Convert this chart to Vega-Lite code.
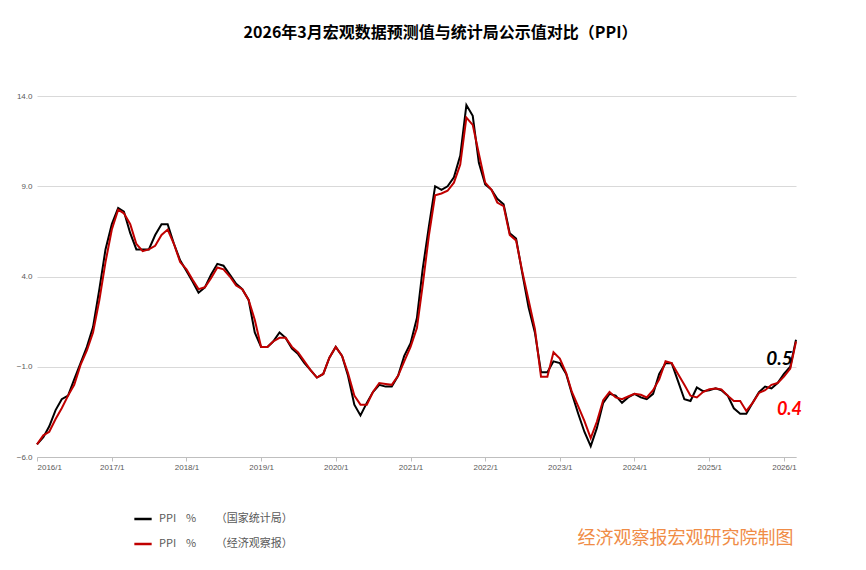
{
  "$schema": "https://vega.github.io/schema/vega-lite/v6.json",
  "width": 759,
  "height": 361,
  "autosize": {"type": "none"},
  "padding": {"left": 37, "top": 96, "right": 70, "bottom": 113},
  "background": "white",
  "title": {
    "text": "2026年3月宏观数据预测值与统计局公示值对比（PPI）",
    "font": "Noto Sans CJK SC",
    "fontSize": 16,
    "fontWeight": "bold",
    "color": "#000000",
    "anchor": "middle",
    "frame": "group",
    "dx": 24,
    "offset": 51
  },
  "config": {"view": {"stroke": null}},
  "layer": [
    {
      "data": {
        "values": [
          {"d": "2016-01", "nbs": -5.3, "eeo": -5.3},
          {"d": "2016-02", "nbs": -4.9, "eeo": -4.8},
          {"d": "2016-03", "nbs": -4.3, "eeo": -4.6},
          {"d": "2016-04", "nbs": -3.4, "eeo": -3.9},
          {"d": "2016-05", "nbs": -2.8, "eeo": -3.3},
          {"d": "2016-06", "nbs": -2.6, "eeo": -2.6},
          {"d": "2016-07", "nbs": -1.7, "eeo": -2.0},
          {"d": "2016-08", "nbs": -0.8, "eeo": -0.9},
          {"d": "2016-09", "nbs": 0.1, "eeo": -0.1},
          {"d": "2016-10", "nbs": 1.2, "eeo": 0.9},
          {"d": "2016-11", "nbs": 3.3, "eeo": 2.7},
          {"d": "2016-12", "nbs": 5.5, "eeo": 4.8},
          {"d": "2017-01", "nbs": 6.9, "eeo": 6.6},
          {"d": "2017-02", "nbs": 7.8, "eeo": 7.7},
          {"d": "2017-03", "nbs": 7.6, "eeo": 7.5},
          {"d": "2017-04", "nbs": 6.4, "eeo": 6.9},
          {"d": "2017-05", "nbs": 5.5, "eeo": 5.8},
          {"d": "2017-06", "nbs": 5.5, "eeo": 5.4},
          {"d": "2017-07", "nbs": 5.5, "eeo": 5.5},
          {"d": "2017-08", "nbs": 6.3, "eeo": 5.7},
          {"d": "2017-09", "nbs": 6.9, "eeo": 6.3},
          {"d": "2017-10", "nbs": 6.9, "eeo": 6.6},
          {"d": "2017-11", "nbs": 5.8, "eeo": 5.8},
          {"d": "2017-12", "nbs": 4.9, "eeo": 4.8},
          {"d": "2018-01", "nbs": 4.3, "eeo": 4.4},
          {"d": "2018-02", "nbs": 3.7, "eeo": 3.8},
          {"d": "2018-03", "nbs": 3.1, "eeo": 3.3},
          {"d": "2018-04", "nbs": 3.4, "eeo": 3.4},
          {"d": "2018-05", "nbs": 4.1, "eeo": 3.9},
          {"d": "2018-06", "nbs": 4.7, "eeo": 4.5},
          {"d": "2018-07", "nbs": 4.6, "eeo": 4.4},
          {"d": "2018-08", "nbs": 4.1, "eeo": 4.0},
          {"d": "2018-09", "nbs": 3.6, "eeo": 3.5},
          {"d": "2018-10", "nbs": 3.3, "eeo": 3.3},
          {"d": "2018-11", "nbs": 2.7, "eeo": 2.7},
          {"d": "2018-12", "nbs": 0.9, "eeo": 1.6},
          {"d": "2019-01", "nbs": 0.1, "eeo": 0.1},
          {"d": "2019-02", "nbs": 0.1, "eeo": 0.1},
          {"d": "2019-03", "nbs": 0.4, "eeo": 0.4},
          {"d": "2019-04", "nbs": 0.9, "eeo": 0.6},
          {"d": "2019-05", "nbs": 0.6, "eeo": 0.6},
          {"d": "2019-06", "nbs": 0.0, "eeo": 0.1},
          {"d": "2019-07", "nbs": -0.3, "eeo": -0.2},
          {"d": "2019-08", "nbs": -0.8, "eeo": -0.7},
          {"d": "2019-09", "nbs": -1.2, "eeo": -1.2},
          {"d": "2019-10", "nbs": -1.6, "eeo": -1.6},
          {"d": "2019-11", "nbs": -1.4, "eeo": -1.4},
          {"d": "2019-12", "nbs": -0.5, "eeo": -0.5},
          {"d": "2020-01", "nbs": 0.1, "eeo": 0.1},
          {"d": "2020-02", "nbs": -0.4, "eeo": -0.4},
          {"d": "2020-03", "nbs": -1.5, "eeo": -1.35},
          {"d": "2020-04", "nbs": -3.1, "eeo": -2.6},
          {"d": "2020-05", "nbs": -3.7, "eeo": -3.1},
          {"d": "2020-06", "nbs": -3.0, "eeo": -3.1},
          {"d": "2020-07", "nbs": -2.4, "eeo": -2.4},
          {"d": "2020-08", "nbs": -2.0, "eeo": -1.9},
          {"d": "2020-09", "nbs": -2.1, "eeo": -1.95},
          {"d": "2020-10", "nbs": -2.1, "eeo": -2.0},
          {"d": "2020-11", "nbs": -1.5, "eeo": -1.5},
          {"d": "2020-12", "nbs": -0.4, "eeo": -0.7},
          {"d": "2021-01", "nbs": 0.3, "eeo": 0.1},
          {"d": "2021-02", "nbs": 1.7, "eeo": 1.15},
          {"d": "2021-03", "nbs": 4.4, "eeo": 3.5},
          {"d": "2021-04", "nbs": 6.8, "eeo": 6.3},
          {"d": "2021-05", "nbs": 9.0, "eeo": 8.5},
          {"d": "2021-06", "nbs": 8.8, "eeo": 8.6},
          {"d": "2021-07", "nbs": 9.0, "eeo": 8.75},
          {"d": "2021-08", "nbs": 9.5, "eeo": 9.2},
          {"d": "2021-09", "nbs": 10.7, "eeo": 10.2},
          {"d": "2021-10", "nbs": 13.5, "eeo": 12.8},
          {"d": "2021-11", "nbs": 12.9, "eeo": 12.4},
          {"d": "2021-12", "nbs": 10.3, "eeo": 10.8},
          {"d": "2022-01", "nbs": 9.1, "eeo": 9.2},
          {"d": "2022-02", "nbs": 8.8, "eeo": 8.8},
          {"d": "2022-03", "nbs": 8.3, "eeo": 8.1},
          {"d": "2022-04", "nbs": 8.0, "eeo": 7.9},
          {"d": "2022-05", "nbs": 6.4, "eeo": 6.3},
          {"d": "2022-06", "nbs": 6.1, "eeo": 6.0},
          {"d": "2022-07", "nbs": 4.2, "eeo": 4.3},
          {"d": "2022-08", "nbs": 2.3, "eeo": 2.7},
          {"d": "2022-09", "nbs": 0.9, "eeo": 1.1},
          {"d": "2022-10", "nbs": -1.3, "eeo": -1.55},
          {"d": "2022-11", "nbs": -1.3, "eeo": -1.55},
          {"d": "2022-12", "nbs": -0.7, "eeo": -0.2},
          {"d": "2023-01", "nbs": -0.8, "eeo": -0.55},
          {"d": "2023-02", "nbs": -1.4, "eeo": -1.35},
          {"d": "2023-03", "nbs": -2.5, "eeo": -2.4},
          {"d": "2023-04", "nbs": -3.6, "eeo": -3.2},
          {"d": "2023-05", "nbs": -4.6, "eeo": -4.0},
          {"d": "2023-06", "nbs": -5.4, "eeo": -4.95},
          {"d": "2023-07", "nbs": -4.4, "eeo": -4.05},
          {"d": "2023-08", "nbs": -3.0, "eeo": -2.85},
          {"d": "2023-09", "nbs": -2.5, "eeo": -2.4},
          {"d": "2023-10", "nbs": -2.6, "eeo": -2.7},
          {"d": "2023-11", "nbs": -3.0, "eeo": -2.8},
          {"d": "2023-12", "nbs": -2.7, "eeo": -2.65},
          {"d": "2024-01", "nbs": -2.5, "eeo": -2.5},
          {"d": "2024-02", "nbs": -2.7, "eeo": -2.55},
          {"d": "2024-03", "nbs": -2.8, "eeo": -2.7},
          {"d": "2024-04", "nbs": -2.5, "eeo": -2.3},
          {"d": "2024-05", "nbs": -1.4, "eeo": -1.7},
          {"d": "2024-06", "nbs": -0.8, "eeo": -0.7},
          {"d": "2024-07", "nbs": -0.8, "eeo": -0.8},
          {"d": "2024-08", "nbs": -1.8, "eeo": -1.4},
          {"d": "2024-09", "nbs": -2.8, "eeo": -2.0},
          {"d": "2024-10", "nbs": -2.9, "eeo": -2.6},
          {"d": "2024-11", "nbs": -2.15, "eeo": -2.7},
          {"d": "2024-12", "nbs": -2.35, "eeo": -2.4},
          {"d": "2025-01", "nbs": -2.3, "eeo": -2.25},
          {"d": "2025-02", "nbs": -2.2, "eeo": -2.2},
          {"d": "2025-03", "nbs": -2.3, "eeo": -2.25},
          {"d": "2025-04", "nbs": -2.6, "eeo": -2.6},
          {"d": "2025-05", "nbs": -3.3, "eeo": -2.9},
          {"d": "2025-06", "nbs": -3.6, "eeo": -2.9},
          {"d": "2025-07", "nbs": -3.6, "eeo": -3.45},
          {"d": "2025-08", "nbs": -3.0, "eeo": -3.0},
          {"d": "2025-09", "nbs": -2.4, "eeo": -2.45},
          {"d": "2025-10", "nbs": -2.1, "eeo": -2.3},
          {"d": "2025-11", "nbs": -2.2, "eeo": -2.0},
          {"d": "2025-12", "nbs": -1.9, "eeo": -1.9},
          {"d": "2026-01", "nbs": -1.4, "eeo": -1.55},
          {"d": "2026-02", "nbs": -1.0, "eeo": -1.1},
          {"d": "2026-03", "nbs": 0.5, "eeo": 0.4}
        ],
        "format": {"parse": {"d": "date:'%Y-%m'"}}
      },
      "transform": [{"fold": ["nbs", "eeo"], "as": ["src", "v"]}],
      "mark": {"type": "line", "strokeWidth": 2},
      "encoding": {
        "x": {
          "field": "d",
          "type": "temporal",
          "title": null,
          "scale": {"domain": [{"year": 2016, "month": 1}, {"year": 2026, "month": 3}]},
          "axis": {
            "values": [
              {"year": 2016, "month": 1}, {"year": 2017, "month": 1}, {"year": 2018, "month": 1},
              {"year": 2019, "month": 1}, {"year": 2020, "month": 1}, {"year": 2021, "month": 1},
              {"year": 2022, "month": 1}, {"year": 2023, "month": 1}, {"year": 2024, "month": 1},
              {"year": 2025, "month": 1}, {"year": 2026, "month": 1}
            ],
            "format": "%Y/%-m",
            "grid": false,
            "domainColor": "#bfbfbf",
            "tickColor": "#bfbfbf",
            "tickSize": 4,
            "labelFont": "Liberation Sans",
            "labelFontSize": 8,
            "labelColor": "#595959",
            "labelPadding": 2
          }
        },
        "y": {
          "field": "v",
          "type": "quantitative",
          "title": null,
          "scale": {"domain": [-6, 14], "nice": false, "zero": false},
          "axis": {
            "values": [-6, -1, 4, 9, 14],
            "format": ".1f",
            "domain": false,
            "ticks": false,
            "gridColor": "#d9d9d9",
            "labelFont": "Liberation Sans",
            "labelFontSize": 8,
            "labelColor": "#595959",
            "labelPadding": 5
          }
        },
        "color": {
          "field": "src",
          "type": "nominal",
          "scale": {"domain": ["nbs", "eeo"], "range": ["#000000", "#c00000"]},
          "legend": {
            "orient": "none",
            "legendX": 96,
            "legendY": 413,
            "direction": "vertical",
            "title": null,
            "padding": 0,
            "symbolType": "stroke",
            "symbolStrokeWidth": 2.5,
            "symbolSize": 300,
            "labelFont": "Noto Sans CJK SC",
            "labelFontSize": 11,
            "labelColor": "#595959",
            "labelOffset": 6,
            "rowPadding": 10,
            "labelExpr": "datum.value === 'nbs' ? 'PPI\u00a0\u00a0\u00a0\u00a0%\u00a0\u00a0\u00a0\u00a0\u00a0\u00a0\u00a0\u00a0（国家统计局）' : 'PPI\u00a0\u00a0\u00a0\u00a0%\u00a0\u00a0\u00a0\u00a0\u00a0\u00a0\u00a0\u00a0（经济观察报）'"
          }
        }
      }
    },
    {
      "data": {"values": [{}]},
      "mark": {"type": "text", "text": "0.5", "font": "Lato", "fontSize": 19, "fontWeight": "bold", "fontStyle": "italic", "color": "#000000", "align": "center", "baseline": "middle"},
      "encoding": {
        "x": {"datum": {"year": 2025, "month": 12, "date": 10}, "type": "temporal"},
        "y": {"datum": -0.55, "type": "quantitative"}
      }
    },
    {
      "data": {"values": [{}]},
      "mark": {"type": "text", "text": "0.4", "font": "Lato", "fontSize": 18, "fontWeight": "bold", "fontStyle": "italic", "color": "#ff0000", "align": "center", "baseline": "middle"},
      "encoding": {
        "x": {"datum": {"year": 2026, "month": 1, "date": 28}, "type": "temporal"},
        "y": {"datum": -3.4, "type": "quantitative"}
      }
    },
    {
      "data": {"values": [{}]},
      "mark": {"type": "text", "text": "经济观察报宏观研究院制图", "font": "Noto Sans CJK SC", "fontSize": 18, "color": "#f08c46", "align": "center", "baseline": "middle"},
      "encoding": {
        "x": {"datum": {"year": 2024, "month": 9, "date": 6}, "type": "temporal"},
        "y": {"datum": -10.54, "type": "quantitative"}
      }
    }
  ]
}
